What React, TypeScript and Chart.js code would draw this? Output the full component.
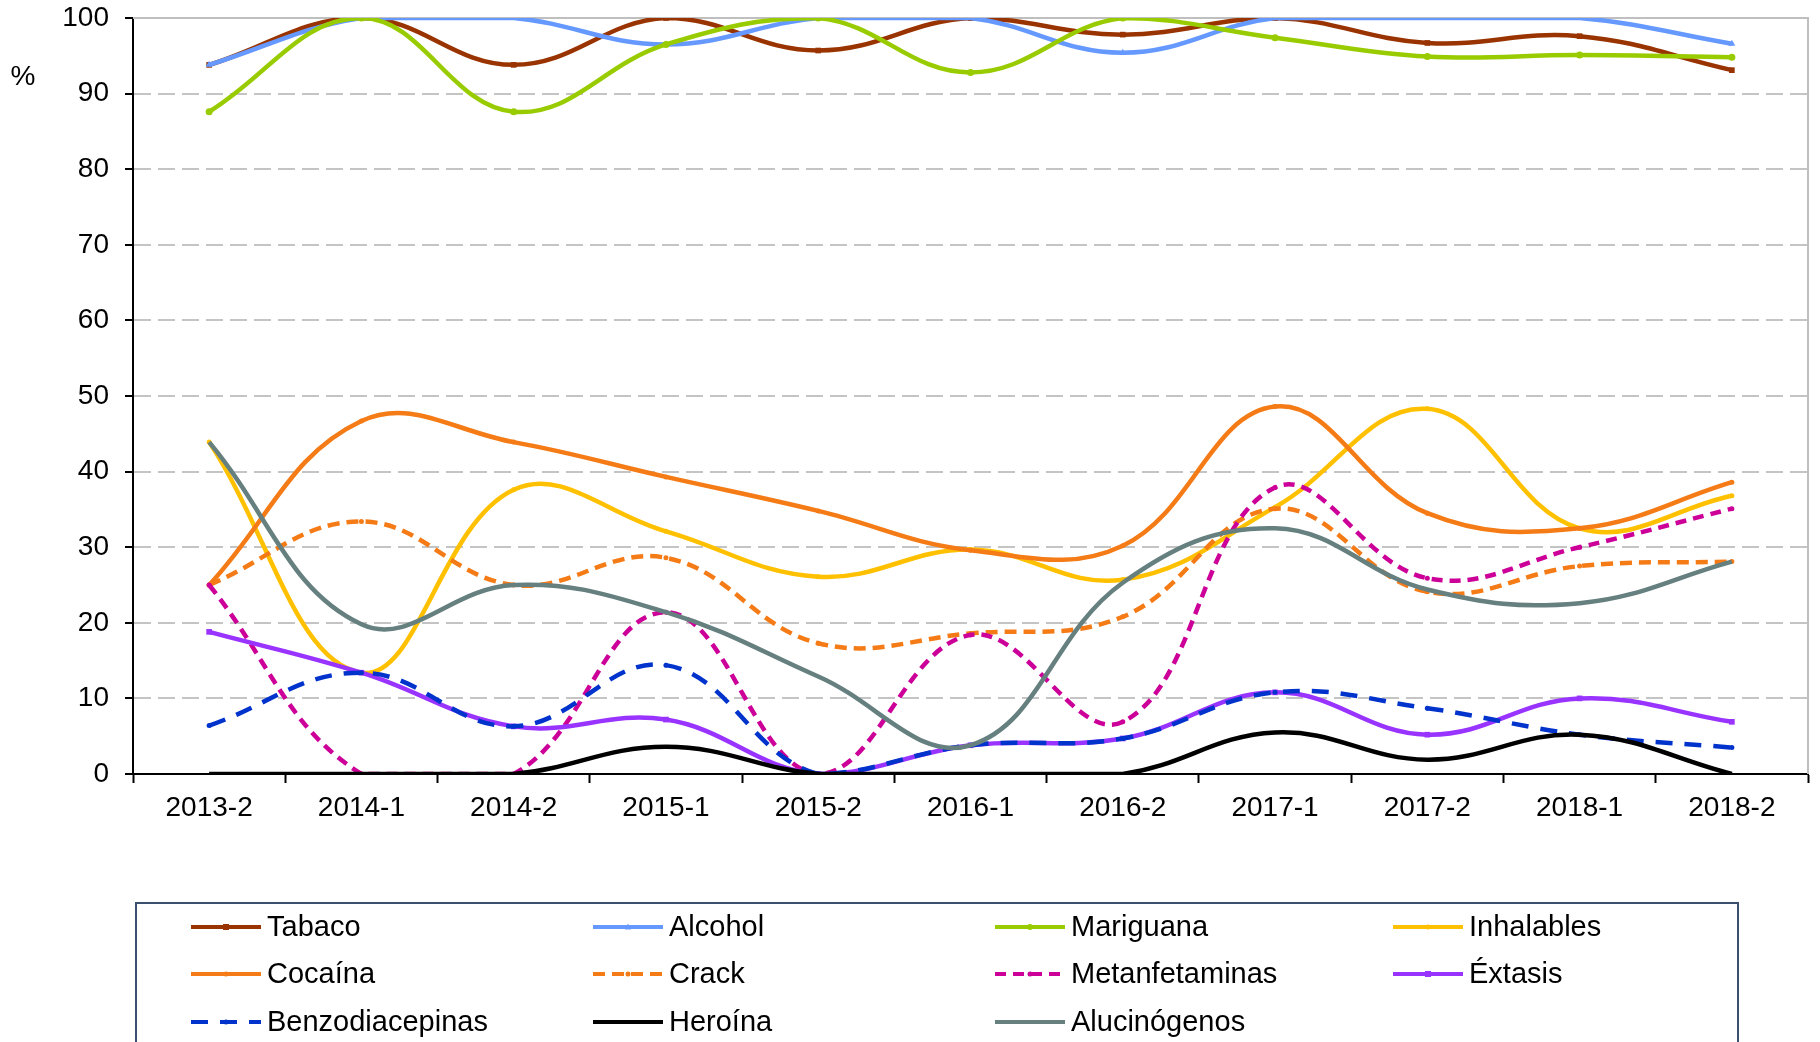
import React, { useEffect, useRef } from 'react';
import { Chart, registerables } from 'chart.js';

Chart.register(...registerables);

const categories = ['2013-2', '2014-1', '2014-2', '2015-1', '2015-2', '2016-1', '2016-2', '2017-1', '2017-2', '2018-1', '2018-2'];

const yTicks = [0, 10, 20, 30, 40, 50, 60, 70, 80, 90, 100];

const tabaco = [93.8, 100, 93.8, 100, 95.7, 100, 97.8, 100, 96.7, 97.6, 93.1];
const alcohol = [93.8, 100, 100, 96.5, 100, 100, 95.4, 100, 100, 100, 96.6];
const mariguana = [87.6, 100, 87.6, 96.5, 100, 92.8, 100, 97.4, 94.9, 95.1, 94.8];
const inhalables = [43.9, 13.4, 37.6, 32.1, 26.1, 29.7, 25.7, 35.3, 48.3, 32.5, 36.8];
const cocaina = [25.0, 46.7, 43.9, 39.3, 34.8, 29.6, 30.2, 48.6, 34.5, 32.5, 38.6];
const crack = [25.0, 33.4, 25.0, 28.6, 17.3, 18.6, 20.8, 35.1, 24.1, 27.5, 28.1];
const metanfetaminas = [25.0, 0, 0, 21.4, 0, 18.4, 6.9, 37.9, 25.9, 30.0, 35.1];
const extasis = [18.8, 13.4, 6.3, 7.2, 0, 3.8, 4.7, 10.8, 5.2, 10.0, 6.9];
const benzodiacepinas = [6.4, 13.4, 6.3, 14.4, 0, 3.8, 4.7, 10.8, 8.7, 5.2, 3.5];
const heroina = [0, 0, 0, 3.6, 0, 0, 0, 5.5, 1.9, 5.2, 0];
const alucinogenos = [43.9, 19.8, 25.0, 21.4, 12.9, 3.8, 25.3, 32.5, 24.4, 22.6, 28.1];

const seriesNames = ['Tabaco', 'Alcohol', 'Mariguana', 'Inhalables', 'Cocaína', 'Crack', 'Metanfetaminas', 'Éxtasis', 'Benzodiacepinas', 'Heroína', 'Alucinógenos'];
const seriesValues = [tabaco, alcohol, mariguana, inhalables, cocaina, crack, metanfetaminas, extasis, benzodiacepinas, heroina, alucinogenos];
const seriesColors = ['#993300', '#6699FF', '#99CC00', '#FFC000', '#F47B16', '#F47B16', '#CC0099', '#9933FF', '#0033CC', '#000000', '#667F7F'];
const seriesDash: number[][] = [[], [], [], [], [], [12, 7], [11, 7], [], [17, 12], [], []];
const seriesMarker = ['rect', 'triangle', 'circle', 'circle', 'circle', 'circle', 'circle', 'rect', 'circle', 'circle', 'circle'];
const seriesMarkerSize = [4, 4, 3.5, 2.5, 2.5, 2.5, 2.5, 4, 2.5, 0, 0];

const FONT = '"Liberation Sans", Arial, sans-serif';

const framePlugin = {
  id: 'frame',
  beforeDatasetsDraw(chart: any) {
    const { ctx, chartArea } = chart;
    ctx.save();
    ctx.strokeStyle = '#BFBFBF';
    ctx.lineWidth = 2;
    ctx.setLineDash([]);
    ctx.beginPath();
    ctx.moveTo(chartArea.left, chartArea.top);
    ctx.lineTo(chartArea.right, chartArea.top);
    ctx.lineTo(chartArea.right, chartArea.bottom);
    ctx.stroke();
    ctx.restore();
  },
};

function drawMarker(ctx: CanvasRenderingContext2D, style: string, x: number, y: number, r: number, color: string) {
  if (r <= 0) return;
  ctx.fillStyle = color;
  ctx.beginPath();
  if (style === 'rect') {
    ctx.rect(x - r, y - r, 2 * r, 2 * r);
  } else if (style === 'triangle') {
    ctx.moveTo(x, y - r * 1.2);
    ctx.lineTo(x + r, y + r * 0.8);
    ctx.lineTo(x - r, y + r * 0.8);
    ctx.closePath();
  } else {
    ctx.arc(x, y, r, 0, Math.PI * 2);
  }
  ctx.fill();
}

const legendPlugin = {
  id: 'boxLegend',
  afterDraw(chart: any) {
    const ctx: CanvasRenderingContext2D = chart.ctx;
    const colX = [191, 593, 995, 1393];
    const rowY = [927, 974, 1022];
    ctx.save();
    ctx.strokeStyle = '#3B506E';
    ctx.lineWidth = 2;
    ctx.setLineDash([]);
    ctx.strokeRect(136, 903, 1738 - 136, 220);

    // % label
    ctx.fillStyle = '#000';
    ctx.font = `28px ${FONT}`;
    ctx.textAlign = 'center';
    ctx.textBaseline = 'middle';
    ctx.fillText('%', 23, 77);

    chart.data.datasets.forEach((ds: any, i: number) => {
      const x = colX[i % 4];
      const y = rowY[Math.floor(i / 4)];
      ctx.strokeStyle = ds.borderColor;
      ctx.lineWidth = 4;
      ctx.setLineDash(ds.borderDash || []);
      ctx.beginPath();
      ctx.moveTo(x, y);
      ctx.lineTo(x + 70, y);
      ctx.stroke();
      ctx.setLineDash([]);
      drawMarker(ctx, ds.pointStyle, x + 35, y, Math.min(ds.pointRadius, 3), ds.borderColor);
      ctx.fillStyle = '#000';
      ctx.font = `29px ${FONT}`;
      ctx.textAlign = 'left';
      ctx.textBaseline = 'middle';
      ctx.fillText(ds.label, x + 76, y + 1);
    });
    ctx.restore();
  },
};

export default function App() {
  const canvasRef = useRef<HTMLCanvasElement | null>(null);

  useEffect(() => {
    if (!canvasRef.current) return;
    const n = seriesNames.length;
    const datasets = seriesNames.map((name, i) => ({
      label: name,
      data: seriesValues[i],
      borderColor: seriesColors[i],
      backgroundColor: seriesColors[i],
      borderWidth: 4.5,
      borderDash: seriesDash[i],
      pointStyle: seriesMarker[i],
      pointRadius: seriesMarkerSize[i],
      pointHoverRadius: seriesMarkerSize[i],
      pointBorderWidth: 0,
      pointBackgroundColor: seriesColors[i],
      tension: 0.4,
      fill: false,
      order: n - 1 - i,
    }));

    const chart = new Chart(canvasRef.current, {
      type: 'line',
      data: { labels: categories, datasets },
      plugins: [framePlugin, legendPlugin],
      options: {
        animation: false,
        responsive: false,
        maintainAspectRatio: false,
        devicePixelRatio: 1,
        layout: { padding: { top: 18, right: 12, bottom: 1042 - 774 - 60, left: 0 } },
        plugins: {
          legend: { display: false },
          tooltip: { enabled: false },
          title: { display: false },
        },
        scales: {
          x: {
            type: 'category',
            offset: true,
            grid: {
              offset: true,
              drawOnChartArea: false,
              color: '#000',
              tickColor: '#000',
              tickLength: 9,
              tickWidth: 2,
            },
            border: { color: '#000', width: 2 },
            ticks: {
              color: '#000',
              font: { size: 28, family: FONT },
              padding: 8,
              maxRotation: 0,
              autoSkip: false,
            },
            afterFit: (s: any) => {
              s.height = 60;
              s.paddingLeft = 0;
              s.paddingRight = 0;
            },
          },
          y: {
            min: 0,
            max: 100,
            afterBuildTicks: (s: any) => {
              s.ticks = yTicks.map((v) => ({ value: v }));
            },
            grid: {
              color: '#C4C4C4',
              lineWidth: 2,
              tickColor: '#000',
              tickLength: 8,
              tickWidth: 2,
            },
            border: { color: '#000', width: 2, dash: [17, 7] },
            ticks: {
              color: '#000',
              font: { size: 28, family: FONT },
              padding: 16,
            },
            afterFit: (s: any) => {
              s.width = 133;
              s.paddingTop = 0;
              s.paddingBottom = 0;
            },
          },
        },
      },
    });
    return () => chart.destroy();
  }, []);

  return (
    <div style={{ position: 'absolute', left: 0, top: 0, width: 1820, height: 1042, background: '#fff' }}>
      <canvas ref={canvasRef} width={1820} height={1042} style={{ width: 1820, height: 1042, display: 'block' }} />
    </div>
  );
}
